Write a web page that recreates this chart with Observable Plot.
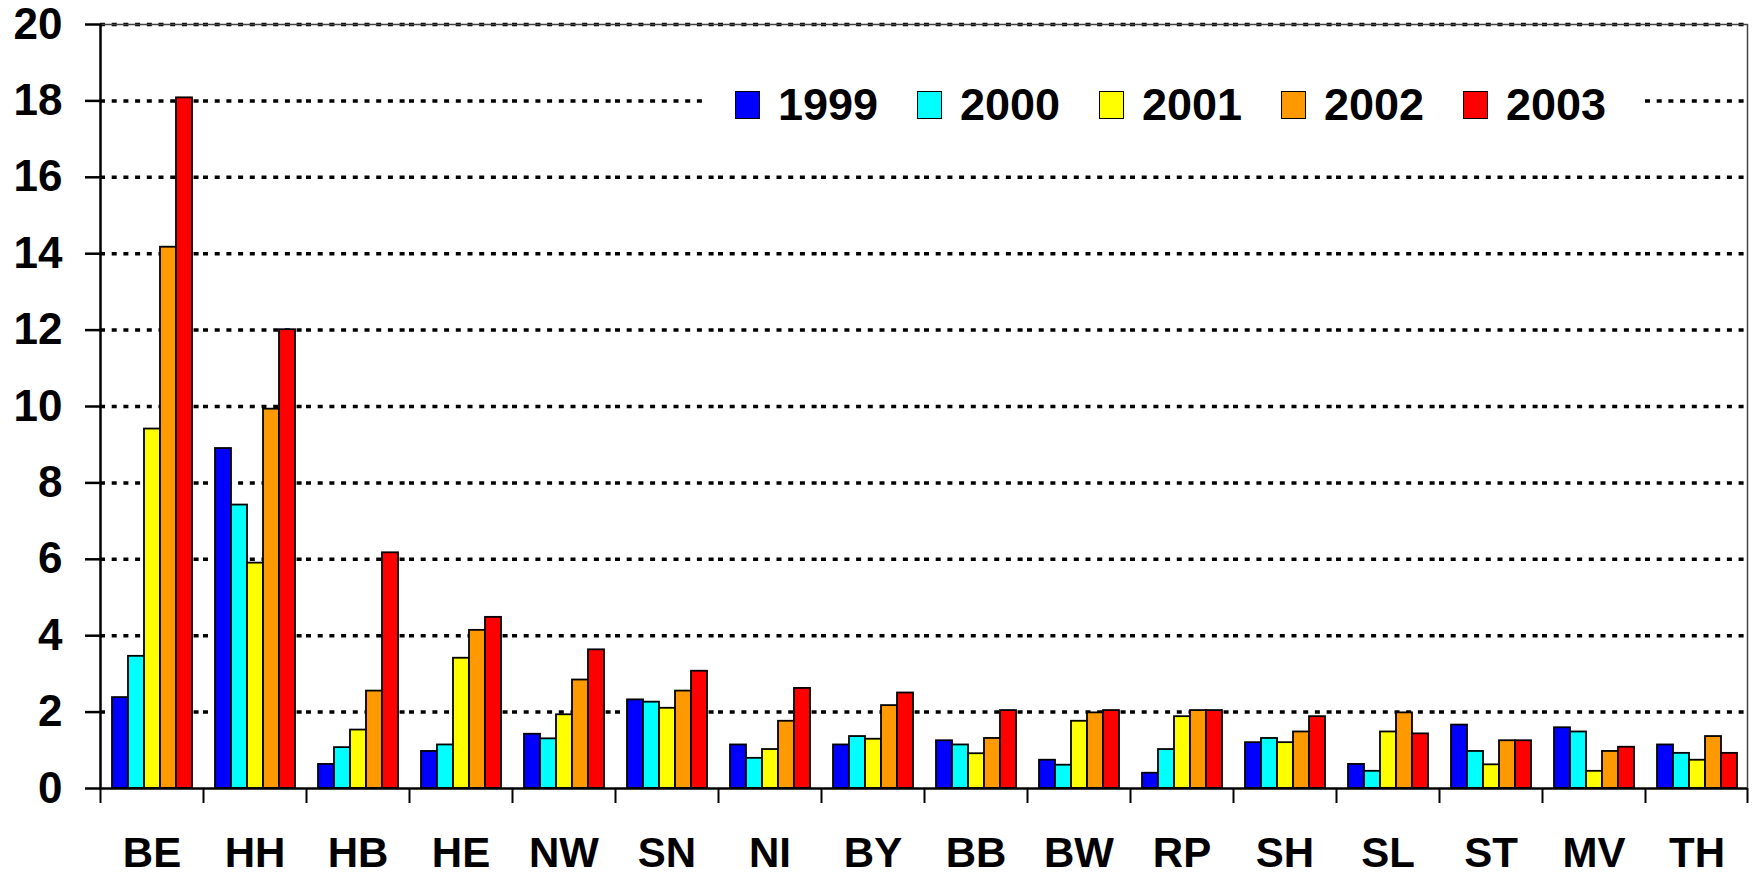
<!DOCTYPE html>
<html>
<head>
<meta charset="utf-8">
<script src="https://cdn.jsdelivr.net/npm/d3@7"></script>
<script src="https://cdn.jsdelivr.net/npm/@observablehq/plot@0.6"></script>
<style>
  html, body { margin: 0; padding: 0; background: #fff; }
  #wrap { position: relative; width: 1755px; height: 877px; overflow: hidden; }
  #wrap svg { display: block; }
  #legend { position: absolute; left: 705px; top: 72px; width: 940px; height: 66px; background: #fff;
    display: flex; align-items: center; padding-left: 30px; box-sizing: border-box;
    font-family: "Liberation Sans", Arial, sans-serif; font-weight: bold; font-size: 45px; color: #000; }
  .item { display: flex; align-items: center; width: 186px; }
  .sw { width: 25px; height: 28px; border: 1px solid #000; margin-right: 18px; box-sizing: border-box; }
</style>
</head>
<body>
<div id="wrap"></div>
<script>
const categories = ["BE","HH","HB","HE","NW","SN","NI","BY","BB","BW","RP","SH","SL","ST","MV","TH"];
const years = ["1999","2000","2001","2002","2003"];
const colors = ["#0000FF","#00FFFF","#FFFF00","#FF9900","#FF0000"];
const v1999 = [2.38, 8.90, 0.63, 0.97, 1.42, 2.32, 1.14, 1.14, 1.25, 0.74, 0.40, 1.20, 0.63, 1.66, 1.59, 1.14];
const v2000 = [3.46, 7.42, 1.07, 1.14, 1.30, 2.26, 0.79, 1.36, 1.14, 0.61, 1.02, 1.31, 0.45, 0.97, 1.48, 0.92];
const v2001 = [9.41, 5.90, 1.53, 3.41, 1.93, 2.10, 1.02, 1.29, 0.91, 1.76, 1.88, 1.20, 1.48, 0.62, 0.45, 0.74];
const v2002 = [14.17, 9.93, 2.55, 4.14, 2.84, 2.55, 1.76, 2.17, 1.31, 1.98, 2.04, 1.48, 1.98, 1.25, 0.97, 1.36];
const v2003 = [18.08, 12.01, 6.17, 4.48, 3.63, 3.07, 2.62, 2.50, 2.04, 2.04, 2.04, 1.88, 1.43, 1.25, 1.08, 0.92];
const yTicks = [0, 2, 4, 6, 8, 10, 12, 14, 16, 18, 20];

const series = [v1999, v2000, v2001, v2002, v2003];
const data = [];
categories.forEach((c, i) => years.forEach((y, j) => data.push({cat: c, year: y, value: series[j][i]})));

const W = 1755, H = 877, mL = 100, mR = 7, mT = 24, mB = 89;
const step = (W - mL - mR) / categories.length;
const font = '"Liberation Sans", Arial, sans-serif';
const last = categories[categories.length - 1];

const chart = Plot.plot({
  width: W, height: H,
  marginLeft: mL, marginRight: mR, marginTop: mT, marginBottom: mB,
  style: {fontFamily: font, fontWeight: "bold", color: "#000", background: "#fff"},
  fx: {domain: categories, padding: 0, axis: null},
  x: {domain: years, paddingInner: 0, paddingOuter: 0.667, axis: null},
  y: {domain: [0, 20], axis: null},
  color: {domain: years, range: colors},
  marks: [
    Plot.ruleY(yTicks.filter(d => d > 0), {stroke: "#000", strokeWidth: 3.5, strokeDasharray: "5,6.7"}),
    Plot.ruleY([20], {stroke: "#444", strokeWidth: 1.5}),
    Plot.barY(data, {fx: "cat", x: "year", y: "value", fill: "year", stroke: "#000", strokeWidth: 1.8}),
    Plot.ruleY([0], {stroke: "#000", strokeWidth: 2.5}),
    Plot.ruleX([categories[0]], {fx: d => d, x: null, dx: -step / 2, stroke: "#000", strokeWidth: 2.5}),
    Plot.ruleX([last], {fx: d => d, x: null, dx: step / 2 - 1, stroke: "#444", strokeWidth: 1.5}),
    Plot.axisY({ticks: yTicks, tickSize: 15, tickPadding: 23, fontSize: 44, strokeWidth: 2.5, label: null, tickFormat: d => String(d)}),
    Plot.axisFx({anchor: "bottom", tickSize: 15, dx: -step / 2, strokeWidth: 2, tickFormat: () => "", label: null}),
    Plot.axisFx({anchor: "bottom", ticks: [last], tickSize: 15, dx: step / 2 - 1, strokeWidth: 2, tickFormat: () => "", label: null}),
    Plot.axisFx({anchor: "bottom", tickSize: 0, tickPadding: 49, fontSize: 42, label: null})
  ]
});

const wrap = document.getElementById("wrap");
wrap.appendChild(chart);
const legend = document.createElement("div");
legend.id = "legend";
years.forEach((y, j) => {
  const it = document.createElement("div");
  it.className = "item";
  const sw = document.createElement("div");
  sw.className = "sw";
  sw.style.background = colors[j];
  const t = document.createElement("span");
  t.textContent = y;
  it.appendChild(sw); it.appendChild(t);
  legend.appendChild(it);
});
wrap.appendChild(legend);
</script>
</body>
</html>
